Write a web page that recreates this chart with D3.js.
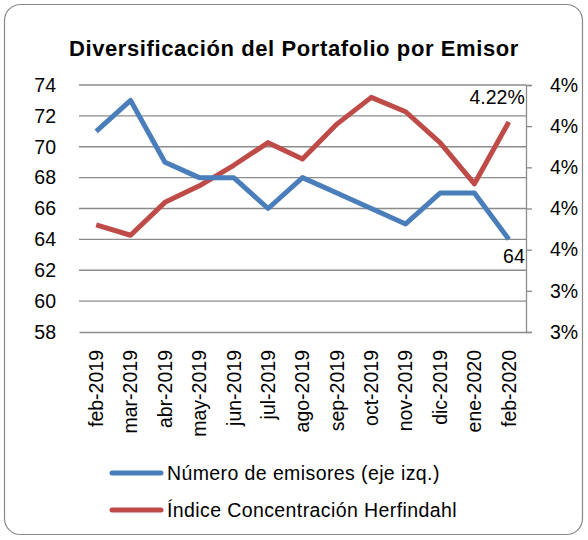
<!DOCTYPE html>
<html lang="en">
    <head>
        <meta charset="utf-8">
        <title>Diversificación del Portafolio por Emisor</title>
        <script type="text/javascript" src="https://d3js.org/d3.v7.min.js"></script>
        <style>
          body { margin: 0; background: #fff; }
          svg text { font-family: "Liberation Sans", Arial, sans-serif; fill: #000; }
        </style>
    </head>
    <body>
        <script type="text/javascript">
            const months = ["feb-2019","mar-2019","abr-2019","may-2019","jun-2019","jul-2019","ago-2019",
                            "sep-2019","oct-2019","nov-2019","dic-2019","ene-2020","feb-2020"]
            const emisores = [71, 73, 69, 68, 68, 66, 68, 67, 66, 65, 67, 67, 64]
            const herfindahl = [0.0372, 0.0367, 0.0383, 0.0391, 0.0401, 0.0412, 0.0404,
                                0.0421, 0.0434, 0.0427, 0.0412, 0.0392, 0.0422]
            const leftTicks = [58, 60, 62, 64, 66, 68, 70, 72, 74]
            const rightTicks = [0.032, 0.034, 0.036, 0.038, 0.040, 0.042, 0.044]
            const legendNames = ["Número de emisores (eje izq.)", "Índice Concentración Herfindahl"]

            const w = 588, h = 540
            const plotLeft = 79, plotRight = 526, plotTop = 85, plotBottom = 332
            const blue = "#4a7ebb", red = "#be4b48", grey = "#8c8c8c"
            const fs = 19.5

            const svg = d3.select("body").append("svg")
                          .attr("width", w).attr("height", h)

            svg.append("rect")
               .attr("x", 4.5).attr("y", 4.5).attr("width", 578).attr("height", 530)
               .attr("rx", 16).attr("fill", "#fff").attr("stroke", "#888").attr("stroke-width", 1.2)

            svg.append("text")
               .attr("x", 294).attr("y", 56).attr("text-anchor", "middle")
               .attr("font-size", 22).attr("font-weight", "bold").attr("letter-spacing", 0.6)
               .text("Diversificación del Portafolio por Emisor")

            const x = d3.scaleBand().domain(months).range([plotLeft, plotRight])
            const xc = (d) => x(d) + x.bandwidth() / 2
            const yL = d3.scaleLinear().domain([58, 74]).range([plotBottom, plotTop])
            const yR = d3.scaleLinear().domain([0.032, 0.044]).range([plotBottom, plotTop])

            // gridlines
            svg.selectAll("line.grid").data(leftTicks.slice(1)).enter()
               .append("line").attr("class", "grid")
               .attr("x1", plotLeft).attr("x2", plotRight)
               .attr("y1", (d) => yL(d)).attr("y2", (d) => yL(d))
               .attr("stroke", grey).attr("stroke-width", 1.3)

            // left axis labels
            const axL = svg.append("g").attr("transform", `translate(${plotLeft},0)`)
                           .call(d3.axisLeft(yL).tickValues(leftTicks).tickSize(0).tickPadding(23))
            axL.select(".domain").remove()
            axL.selectAll("text").attr("font-size", fs).attr("font-family", null)

            // right axis
            const axR = svg.append("g").attr("transform", `translate(${plotRight},0)`)
                           .call(d3.axisRight(yR).tickValues(rightTicks).tickSize(6).tickPadding(18)
                                 .tickFormat(d3.format(".0%")))
            axR.select(".domain").attr("stroke", grey).attr("stroke-width", 1.3)
            axR.selectAll("line").attr("stroke", grey).attr("stroke-width", 1.3)
            axR.selectAll("text").attr("font-size", fs).attr("font-family", null)

            // bottom axis
            const axB = svg.append("g").attr("transform", `translate(0,${plotBottom})`)
                           .call(d3.axisBottom(x).tickSize(0).tickSizeOuter(0))
            axB.select(".domain").attr("stroke", grey).attr("stroke-width", 1.3)
            axB.selectAll("text")
               .attr("font-size", fs).attr("font-family", null)
               .attr("transform", "rotate(-90)")
               .attr("text-anchor", "end").attr("dx", "-18").attr("dy", "0.35em").attr("y", 0)

            const lineL = d3.line().x((d, i) => xc(months[i])).y((d) => yL(d))
            const lineR = d3.line().x((d, i) => xc(months[i])).y((d) => yR(d))

            svg.append("path").datum(herfindahl).attr("d", lineR)
               .attr("fill", "none").attr("stroke", red).attr("stroke-width", 5)
               .attr("stroke-linejoin", "round")
            svg.append("path").datum(emisores).attr("d", lineL)
               .attr("fill", "none").attr("stroke", blue).attr("stroke-width", 5)
               .attr("stroke-linejoin", "round")

            const last = months.length - 1
            svg.append("text")
               .attr("x", xc(months[last]) + 16).attr("y", yR(herfindahl[last]) - 18)
               .attr("text-anchor", "end").attr("font-size", fs)
               .text(d3.format(".2%")(herfindahl[last]))
            svg.append("text")
               .attr("x", xc(months[last]) + 16).attr("y", yL(emisores[last]) + 24)
               .attr("text-anchor", "end").attr("font-size", fs)
               .text(emisores[last])

            // legend
            const legend = svg.selectAll("g.legend").data(legendNames).enter()
                              .append("g").attr("class", "legend")
                              .attr("transform", (d, i) => `translate(112,${473 + i * 37})`)
            legend.append("line").attr("x1", 0).attr("x2", 49)
                  .attr("stroke", (d, i) => i === 0 ? blue : red)
                  .attr("stroke-width", 5).attr("stroke-linecap", "round")
            legend.append("text").attr("x", 55).attr("dy", "0.36em")
                  .attr("font-size", fs).attr("letter-spacing", 0.4).text((d) => d)
        </script>
    </body>
</html>
